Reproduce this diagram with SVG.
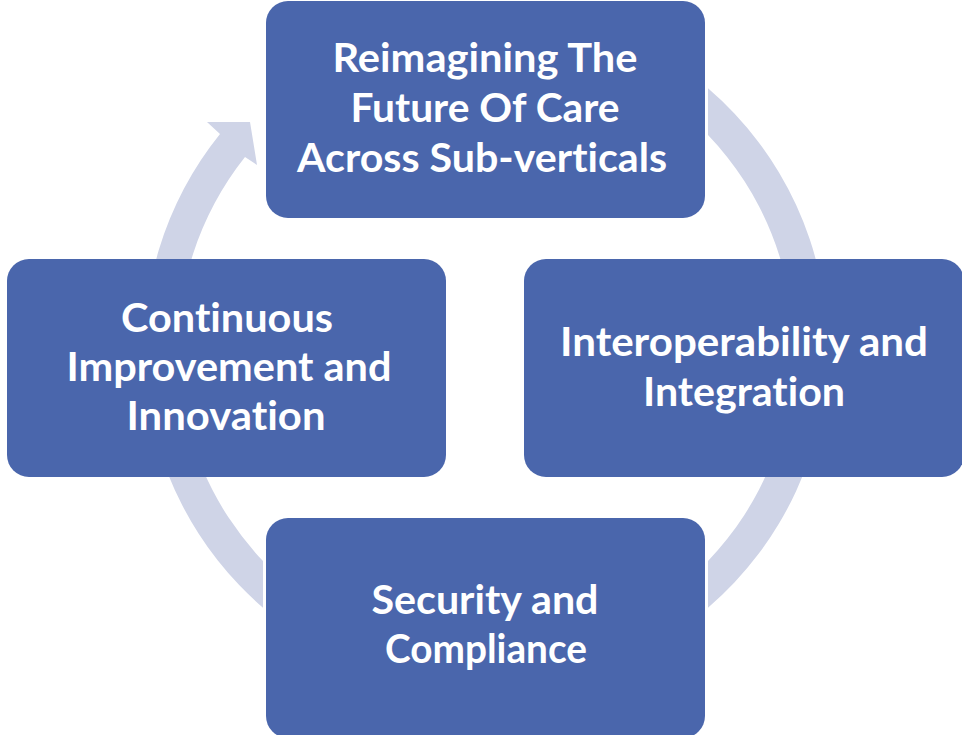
<svg xmlns="http://www.w3.org/2000/svg" width="962" height="735" viewBox="0 0 962 735">
<style>
.box{fill:#4A66AC}
.ring{fill:#CFD4E7}
.t{font-family:Lato,"Open Sans","Liberation Sans",sans-serif;font-weight:bold;font-size:40px;fill:#FFFFFF;text-anchor:middle;font-variant-ligatures:none}
</style>
<rect width="962" height="735" fill="#FFFFFF"/>
<g id="connectors">
<path class="ring" d="M708,88.3 A342,342 0 0 1 708,607.7 L708,561 A308,308 0 0 0 708,135 Z"/>
<path class="ring" d="M263,607.7 A342,342 0 0 1 220,134 L207,122 L250,122 L257,165 L245,157 A308,308 0 0 0 263,561 Z"/>
</g>
<g id="node-top">
<rect class="box" x="266" y="1" width="439" height="217" rx="22"/>
<text class="t" x="485" y="72" textLength="305" lengthAdjust="spacingAndGlyphs">Reimagining The</text>
<text class="t" x="485" y="122" textLength="269" lengthAdjust="spacingAndGlyphs">Future Of Care</text>
<text class="t" x="482" y="172" textLength="370" lengthAdjust="spacingAndGlyphs">Across Sub-verticals</text>
</g>
<g id="node-right">
<rect class="box" x="524" y="259" width="440" height="218" rx="22"/>
<text class="t" x="744" y="356" textLength="368" lengthAdjust="spacingAndGlyphs">Interoperability and</text>
<text class="t" x="744" y="406" textLength="202" lengthAdjust="spacingAndGlyphs">Integration</text>
</g>
<g id="node-bottom">
<rect class="box" x="266" y="518" width="439" height="220" rx="22"/>
<text class="t" x="485" y="614" textLength="227" lengthAdjust="spacingAndGlyphs">Security and</text>
<text class="t" x="486" y="663" textLength="202" lengthAdjust="spacingAndGlyphs">Compliance</text>
</g>
<g id="node-left">
<rect class="box" x="7" y="259" width="439" height="218" rx="22"/>
<text class="t" x="227" y="332" textLength="212" lengthAdjust="spacingAndGlyphs">Continuous</text>
<text class="t" x="229" y="381" textLength="325" lengthAdjust="spacingAndGlyphs">Improvement and</text>
<text class="t" x="226" y="430" textLength="199" lengthAdjust="spacingAndGlyphs">Innovation</text>
</g>
</svg>
